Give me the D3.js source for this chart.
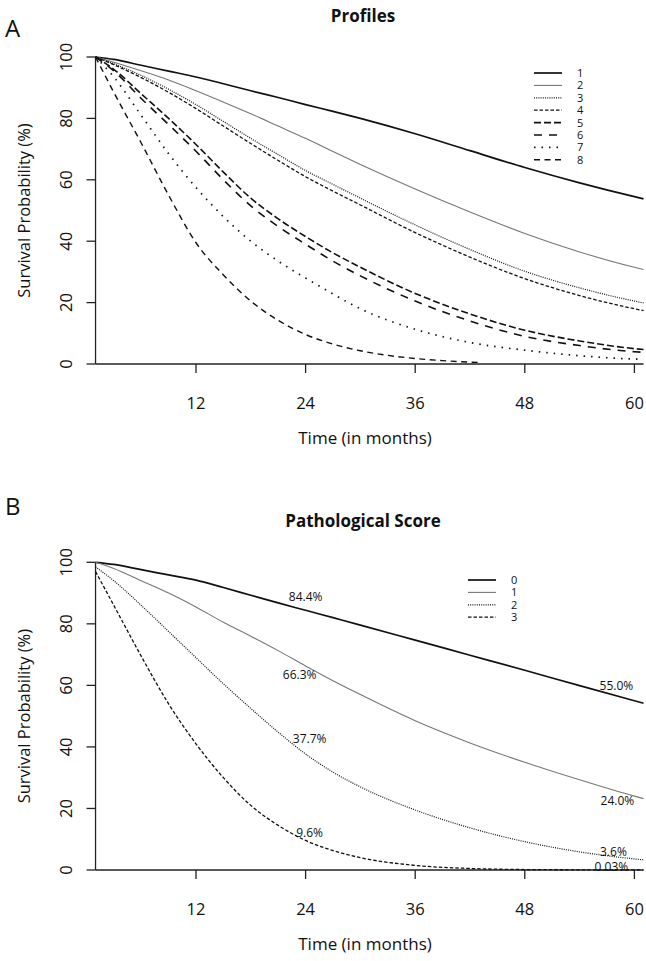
<!DOCTYPE html>
<html>
<head>
<meta charset="utf-8">
<script src="https://cdn.jsdelivr.net/npm/d3@7"></script>
<style>
  html, body { margin: 0; padding: 0; background: #fff; }
  svg { display: block; }
  text { font-family: "Open Sans", "Noto Sans", sans-serif; fill: #111; }
</style>
</head>
<body>
<svg id="chart" width="646" height="961"></svg>
<script>
// ---------- DATA ----------
const xTicks = [12, 24, 36, 48, 60];
const yTicks = [0, 20, 40, 60, 80, 100];

// Panel A: Profiles
const profileNames = ["1", "2", "3", "4", "5", "6", "7", "8"];
const timesA = [1, 3, 6, 9, 12, 15, 18, 21, 24, 27, 30, 36, 42, 48, 54, 60, 61];
const profile1 = [100, 99.2, 97.3, 95.4, 93.5, 91.3, 89, 86.8, 84.5, 82.3, 80, 75, 69.5, 64, 59, 54.5, 53.8];
const profile2 = [100, 98.3, 95.5, 92.5, 89, 85.3, 81.5, 77.5, 73.5, 69.2, 65, 57, 49.5, 42.5, 36.5, 31.5, 30.8];
const profile3 = [100, 97.8, 94, 89.5, 84.5, 79, 73.5, 68.2, 63, 58.5, 54, 45.3, 37.3, 30.2, 24.8, 20.5, 19.9];
const profile4 = [100, 97.5, 93.3, 88.5, 83.2, 77.5, 71.8, 66.3, 61, 56.3, 51.8, 42.8, 34.8, 27.8, 22.3, 18, 17.4];
const profile5 = [100, 96, 88, 80, 71.5, 62.5, 54, 47.3, 41.5, 36.2, 31.5, 23, 16.3, 11, 7.5, 5, 4.7];
const profile6 = [100, 95.5, 86.5, 78, 69.3, 60, 51.5, 44.8, 39, 33.5, 28.7, 20.5, 14, 9, 6, 4, 3.8];
const profile7 = [100, 93.5, 81, 68.5, 57.5, 48, 40, 33.5, 28, 22.8, 18, 11.3, 7, 4.5, 2.7, 1.6, 1.5];
const times8 = [1, 3, 6, 9, 12, 15, 18, 21, 24, 27, 30, 33, 36, 39, 42, 43];
const profile8 = [100, 88.5, 72, 55, 39.5, 29, 20.5, 14.2, 9.6, 6.5, 4.3, 2.8, 1.8, 1.1, 0.6, 0.5];

// Panel B: Pathological Score
const scoreNames = ["0", "1", "2", "3"];
const timesB = [1, 3, 6, 9, 12, 15, 18, 21, 24, 27, 30, 36, 42, 48, 54, 60, 61];
const score0 = [100, 99.3, 97.6, 95.9, 94.2, 91.8, 89.3, 86.8, 84.4, 82, 79.6, 74.7, 69.8, 64.9, 59.9, 55.0, 54.2];
const score1 = [100, 98, 94, 90, 85.5, 80.5, 76, 71.3, 66.3, 61.5, 57, 48.5, 41.3, 35, 29.3, 24, 23.2];
const score2 = [98.5, 94, 86, 77.5, 69, 60.5, 52.5, 44.8, 37.7, 31.8, 27, 19.5, 13.7, 9.2, 5.9, 3.6, 3.3];
const score3 = [97, 86, 69.5, 54, 41, 30, 21, 14.5, 9.6, 6.3, 4, 1.5, 0.5, 0.15, 0.06, 0.03, 0.03];
const labelTimes = [24, 60];
const labels24 = [84.4, 66.3, 37.7, 9.6];
const labels60 = [55.0, 24.0, 3.6, 0.03];
const labelText24 = ["84.4%", "66.3%", "37.7%", "9.6%"];
const labelText60 = ["55.0%", "24.0%", "3.6%", "0.03%"];

// ---------- STYLES ----------
const stylesA = [
  { color: "#111", width: 1.7, dash: null },
  { color: "#777", width: 1.1, dash: null },
  { color: "#111", width: 1.2, dash: "1,1.2" },
  { color: "#111", width: 1.3, dash: "3.5,2" },
  { color: "#111", width: 1.6, dash: "7,3" },
  { color: "#111", width: 1.6, dash: "8,7" },
  { color: "#111", width: 1.7, dash: "1.5,6" },
  { color: "#111", width: 1.4, dash: "6,4.5" }
];
const stylesB = [stylesA[0], stylesA[1], stylesA[2], stylesA[3]];

const svg = d3.select("#chart");
const x = d3.scaleLinear().domain([0, 60]).range([86.4, 634.4]);
const xStart = 1, xEnd = 61;

function drawPanel(opt) {
  const y = d3.scaleLinear().domain([0, 100]).range([opt.y0, opt.y100]);
  const g = svg.append("g");

  // axes
  g.append("line").attr("x1", x(xStart)).attr("x2", x(xStart))
    .attr("y1", y(0)).attr("y2", y(100)).attr("stroke", "#222").attr("stroke-width", 1.3);
  g.append("line").attr("x1", x(xStart)).attr("x2", x(xEnd))
    .attr("y1", y(0)).attr("y2", y(0)).attr("stroke", "#222").attr("stroke-width", 1.3);
  yTicks.forEach(v => {
    g.append("line").attr("x1", x(xStart) - 9).attr("x2", x(xStart))
      .attr("y1", y(v)).attr("y2", y(v)).attr("stroke", "#222").attr("stroke-width", 1.3);
    g.append("text").attr("transform", `translate(${72},${y(v)}) rotate(-90)`)
      .attr("text-anchor", "middle").attr("font-size", 16.5).text(v);
  });
  xTicks.forEach(t => {
    g.append("line").attr("x1", x(t)).attr("x2", x(t))
      .attr("y1", y(0)).attr("y2", y(0) + 9).attr("stroke", "#222").attr("stroke-width", 1.3);
    g.append("text").attr("x", x(t)).attr("y", y(0) + 45)
      .attr("text-anchor", "middle").attr("font-size", 16.5).text(t);
  });
  g.append("text").attr("x", 365).attr("y", y(0) + 80)
    .attr("text-anchor", "middle").attr("font-size", 17).text("Time (in months)");
  g.append("text").attr("transform", `translate(${30},${(y(0) + y(100)) / 2}) rotate(-90)`)
    .attr("text-anchor", "middle").attr("font-size", 16.5).text("Survival Probability (%)");
  g.append("text").attr("x", 363).attr("y", opt.titleY)
    .attr("text-anchor", "middle").attr("font-size", 17).attr("font-weight", "bold").text(opt.title);
  g.append("text").attr("x", 5).attr("y", opt.letterY)
    .attr("font-size", 24).text(opt.letter);

  // curves
  const line = d3.line().x(d => x(d[0])).y(d => y(d[1])).curve(d3.curveMonotoneX);
  opt.series.forEach((s, i) => {
    const st = opt.styles[i];
    g.append("path").datum(s.t.map((t, k) => [t, s.v[k]]))
      .attr("d", line).attr("fill", "none")
      .attr("stroke", st.color).attr("stroke-width", st.width)
      .attr("stroke-dasharray", st.dash);
  });

  // legend
  opt.names.forEach((n, i) => {
    const st = opt.styles[i];
    const ly = opt.legY + i * 12.4;
    g.append("line").attr("x1", opt.legX).attr("x2", opt.legX + 28)
      .attr("y1", ly).attr("y2", ly)
      .attr("stroke", st.color).attr("stroke-width", st.width)
      .attr("stroke-dasharray", st.dash);
    g.append("text").attr("x", opt.legX + 43).attr("y", ly + 4)
      .attr("font-size", 11).text(n);
  });
  return y;
}

drawPanel({
  y0: 364, y100: 57, title: "Profiles", titleY: 22, letter: "A", letterY: 37,
  names: profileNames, styles: stylesA, legX: 534, legY: 73,
  series: [
    { t: timesA, v: profile1 }, { t: timesA, v: profile2 }, { t: timesA, v: profile3 },
    { t: timesA, v: profile4 }, { t: timesA, v: profile5 }, { t: timesA, v: profile6 },
    { t: timesA, v: profile7 }, { t: times8, v: profile8 }
  ]
});

const yB = drawPanel({
  y0: 870, y100: 562.3, title: "Pathological Score", titleY: 527, letter: "B", letterY: 515,
  names: scoreNames, styles: stylesB, legX: 468, legY: 580,
  series: [
    { t: timesB, v: score0 }, { t: timesB, v: score1 },
    { t: timesB, v: score2 }, { t: timesB, v: score3 }
  ]
});

// percentage annotations
const off24 = [[0, -13.5], [-6, 9], [4, -15], [4, -7.5]];
const off60 = [[-18, -15], [-17, 4], [-21, -7], [-23, -3]];
labels24.forEach((v, i) => {
  svg.append("text").attr("x", x(labelTimes[0]) + off24[i][0]).attr("y", yB(v) + off24[i][1])
    .attr("text-anchor", "middle").attr("dominant-baseline", "central")
    .attr("font-size", 12).text(labelText24[i]);
});
labels60.forEach((v, i) => {
  svg.append("text").attr("x", x(labelTimes[1]) + off60[i][0]).attr("y", yB(v) + off60[i][1])
    .attr("text-anchor", "middle").attr("dominant-baseline", "central")
    .attr("font-size", 12).text(labelText60[i]);
});
</script>
</body>
</html>
